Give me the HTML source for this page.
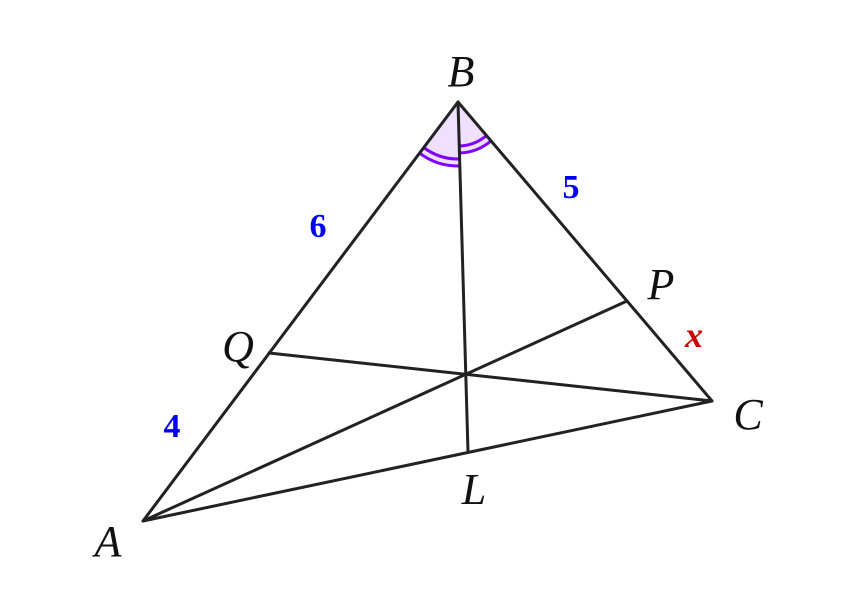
<!DOCTYPE html>
<html><head><style>html,body{margin:0;padding:0;background:#fff}</style></head><body>
<svg width="858" height="604" viewBox="0 0 858 604" xmlns="http://www.w3.org/2000/svg">
<path d="M458,102 L419.5,153.1 A64,64 0 0 0 459.8,166 Z" fill="#efe0ff"/>
<path d="M458,102 L459.5,153 A51,51 0 0 0 491,140.9 Z" fill="#efe0ff"/>
<g fill="none" stroke="#8000ff" stroke-width="3">
<path d="M423.7,147.5 A57,57 0 0 0 459.6,159"/>
<path d="M419.5,153.1 A64,64 0 0 0 459.8,166"/>
<path d="M459.3,146 A44,44 0 0 0 486.5,135.5"/>
<path d="M459.5,153 A51,51 0 0 0 491,140.9"/>
</g>
<g stroke="#222" stroke-width="3" fill="none" stroke-linecap="round" stroke-linejoin="round">
<path d="M143,521 L458,102 L712,401 Z"/>
<line x1="458" y1="102" x2="468" y2="452"/>
<line x1="269" y1="353" x2="712" y2="401"/>
<line x1="143" y1="521" x2="627" y2="301"/>
</g>
<g font-family="Liberation Serif, serif" font-style="italic" font-size="44" fill="#111" text-anchor="middle">
<text x="461" y="86">B</text>
<text x="238" y="361">Q</text>
<text x="661" y="299">P</text>
<text x="748" y="429">C</text>
<text x="474" y="504">L</text>
<text x="108" y="556">A</text>
</g>
<g font-family="Liberation Serif, serif" font-weight="bold" font-size="34" fill="#0000ee" text-anchor="middle">
<text x="318" y="237">6</text>
<text x="571" y="198">5</text>
<text x="172" y="437">4</text>
</g>
<text x="694" y="347" font-family="Liberation Serif, serif" font-weight="bold" font-style="italic" font-size="36" fill="#cc0000" text-anchor="middle">x</text>
</svg>
</body></html>
